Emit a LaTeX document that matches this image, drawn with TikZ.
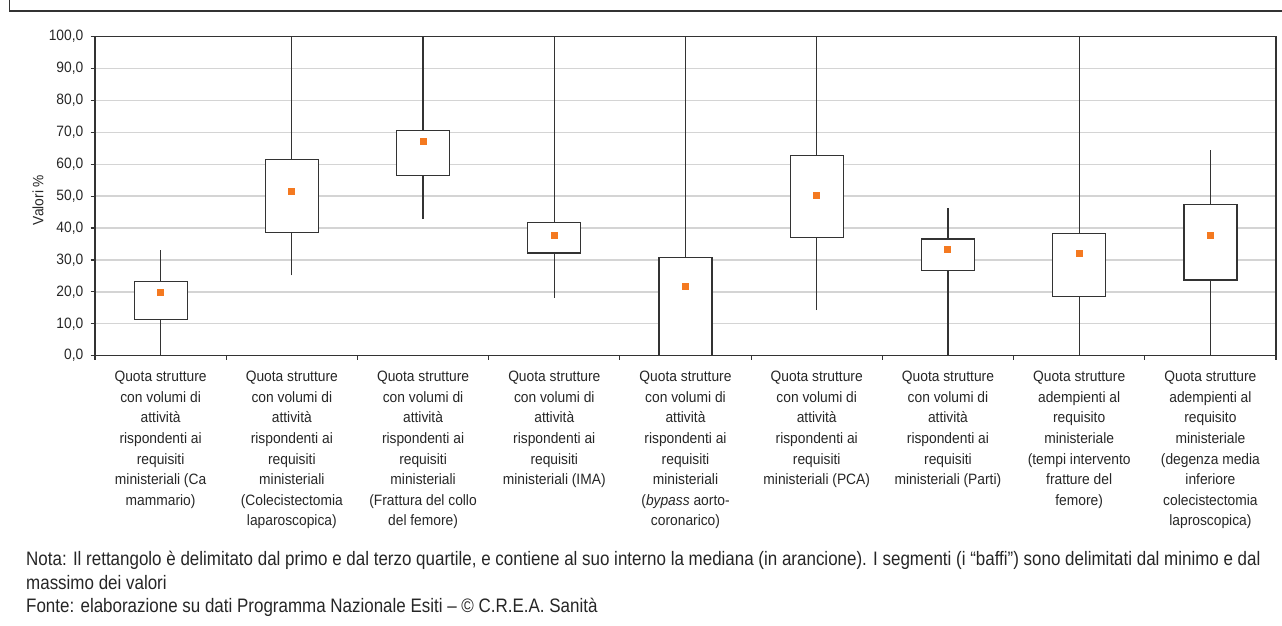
\documentclass[tikz,border=0pt]{standalone}
\usepackage{fontspec}
\setmainfont{Liberation Sans}[FakeStretch=0.92]
\newfontfamily\notefont{Liberation Sans}[FakeStretch=0.87]
\definecolor{axisgray}{HTML}{333333}
\definecolor{gridgray}{HTML}{D4D4D4}
\definecolor{medorange}{HTML}{F47920}
\definecolor{txt}{HTML}{262626}
\tikzset{
  axisline/.style={draw=axisgray, line width=1.2pt},
  gridline/.style={draw=gridgray, line width=1.4pt},
  boxstyle/.style={draw=axisgray, line width=1.2pt, fill=white},
  whisker/.style={draw=axisgray, line width=1.2pt},
  median/.style={fill=medorange, minimum size=7pt, inner sep=0pt, outer sep=0pt},
  ticklabel/.style={anchor=east, inner sep=0pt, text=txt, font=\fontsize{15}{17}\selectfont},
  catlabel/.style={anchor=north, inner sep=0pt, align=center, text=txt, font=\fontsize{15}{20.6}\selectfont},
  notetext/.style={anchor=base west, inner sep=0pt, text=txt, font=\notefont\fontsize{19.5}{23.5}\selectfont}
}
\begin{document}
\begin{tikzpicture}[x=1pt,y=1pt]
\useasboundingbox (0,0) rectangle (1282,626);
% outer frame (open at right and bottom)
\draw[axisline] (9.3,626) -- (9.3,615) -- (1282,615);
\begin{scope}[shift={(0,270.3)}, y=3.19pt]
  % grid
  \foreach \v in {10,20,...,90} \draw[gridline] (95,\v) -- (1276,\v);
  % plot frame
  \draw[axisline] (95,0) rectangle (1276,100);
  % y ticks and labels
  \foreach \v in {0,10,...,100} {
    \draw[axisline] (90.5,\v) -- (95,\v);
    \node[ticklabel] (yl\v) at (83.5,\v) {\v,0};
  }
  % x ticks
  \foreach \k in {0,...,9} \draw[axisline] ({95+131.222*\k},0) -- ++(0,-4.5pt);
  % boxes: k/min/q1/med/q3/max
  \foreach \k/\mn/\qa/\md/\qc/\mx in {
      1/0/11.4/19.7/23.2/33.1,
      2/25.2/38.5/51.4/61.6/100,
      3/42.8/56.4/67.1/70.7/100,
      4/18.2/32.2/37.7/41.8/100,
      5/0/0/21.6/30.8/100,
      6/14.3/37.0/50.1/62.7/100,
      7/0/26.6/33.4/36.6/46.3,
      8/0/18.5/32.1/38.4/100,
      9/0/23.7/37.7/47.5/64.4} {
    \pgfmathsetmacro{\cx}{95+131.222*(\k-0.5)}
    \draw[whisker] (\cx,\mn) -- (\cx,\qa);
    \draw[whisker] (\cx,\qc) -- (\cx,\mx);
    \draw[boxstyle] ({\cx-26.5},\qa) rectangle ({\cx+26.5},\qc);
    \node[median] (med\k) at (\cx,\md) {};
  }
\end{scope}
% y axis title
\node[rotate=90, inner sep=0pt, text=txt, font=\fontsize{15}{17}\selectfont] (ytitle) at (38,426) {Valori \%};
% category labels
\foreach \k/\t in {
  1/{Quota strutture\\con volumi di\\attività\\rispondenti ai\\requisiti\\ministeriali (Ca\\mammario)},
  2/{Quota strutture\\con volumi di\\attività\\rispondenti ai\\requisiti\\ministeriali\\(Colecistectomia\\laparoscopica)},
  3/{Quota strutture\\con volumi di\\attività\\rispondenti ai\\requisiti\\ministeriali\\(Frattura del collo\\del femore)},
  4/{Quota strutture\\con volumi di\\attività\\rispondenti ai\\requisiti\\ministeriali (IMA)},
  5/{Quota strutture\\con volumi di\\attività\\rispondenti ai\\requisiti\\ministeriali\\(\textit{bypass} aorto-\\coronarico)},
  6/{Quota strutture\\con volumi di\\attività\\rispondenti ai\\requisiti\\ministeriali (PCA)},
  7/{Quota strutture\\con volumi di\\attività\\rispondenti ai\\requisiti\\ministeriali (Parti)},
  8/{Quota strutture\\adempienti al\\requisito\\ministeriale\\(tempi intervento\\fratture del\\femore)},
  9/{Quota strutture\\adempienti al\\requisito\\ministeriale\\(degenza media\\inferiore\\colecistectomia\\laproscopica)}} {
  \node[catlabel] (cat\k) at ({95+131.222*(\k-0.5)},255) {\t};
}
% note
\node[notetext] (note1) at (26,60) {Nota: Il rettangolo è delimitato dal primo e dal terzo quartile, e contiene al suo interno la mediana (in arancione). I segmenti (i “baffi”) sono delimitati dal minimo e dal};
\node[notetext] (note2) at (26,36.5) {massimo dei valori};
\node[notetext] (note3) at (26,13) {Fonte: elaborazione su dati Programma Nazionale Esiti – © C.R.E.A. Sanità};
\end{tikzpicture}
\end{document}
